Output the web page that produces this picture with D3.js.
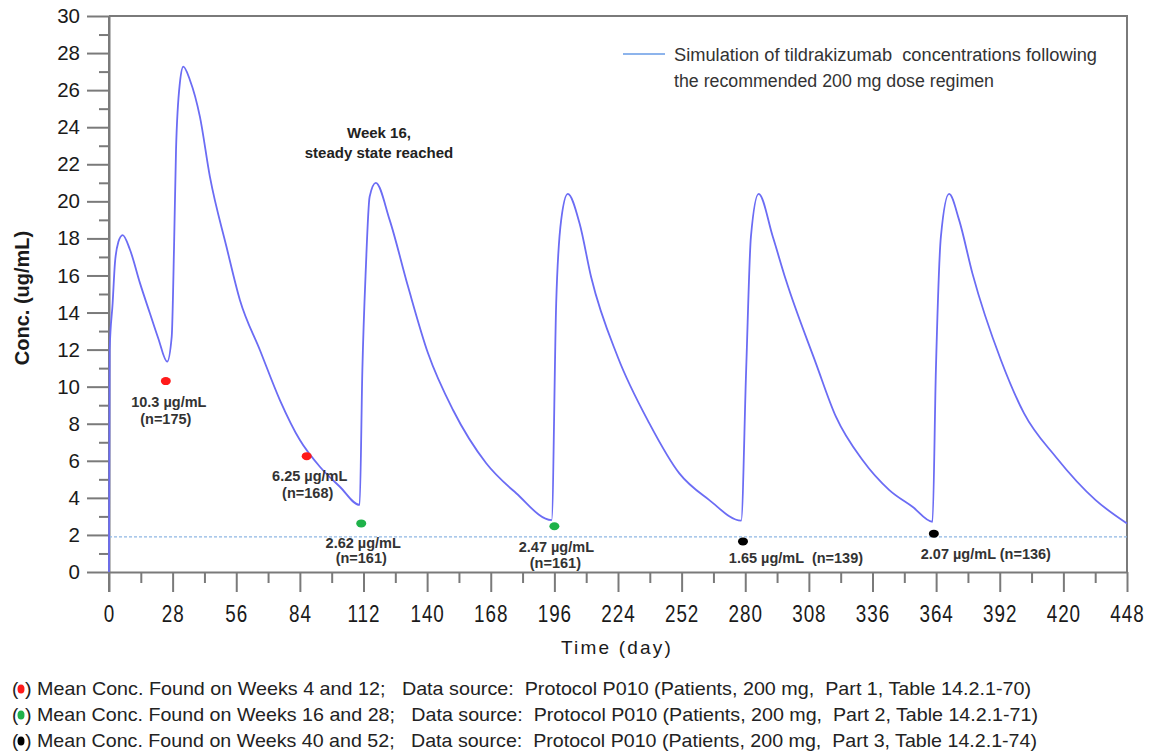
<!DOCTYPE html>
<html><head><meta charset="utf-8">
<script src="https://cdn.jsdelivr.net/npm/d3@7"></script>
<style>
  body { margin: 0; background: #fff; }
  svg { display: block; }
  text { white-space: pre; }
</style>
</head><body>
<svg id="chart" width="1151" height="753"></svg>
<script>
// Simulated tildrakizumab concentration-time profile (day, µg/mL)
const simDays = [0, 0.3, 1.6, 2.6, 4.1, 6.0, 9.2, 13.6, 18.0, 21.7, 25.6, 27.6, 28.6, 29.5, 31.2, 32.7,
  35.6, 40.0, 44.4, 51.7, 57.6, 66.4, 75.2, 84.0, 92.8, 101.6, 110.3, 111.5, 113.0, 114.7, 117.4,
  123.5, 131.6, 140.4, 151.4, 166.0, 179.2, 194.8, 196.8, 199.0, 201.9, 207.1, 212.2, 223.9, 237.8,
  251.0, 264.2, 278.2, 280.4, 282.5, 285.9, 292.1, 297.9, 311.1, 319.9, 331.6, 343.4, 353.6, 362.4,
  363.9, 366.1, 369.7, 374.1, 380.0, 392.5, 402.7, 416.6, 434.2, 448];
const simConc = [0, 12.0, 14.5, 16.65, 17.8, 18.18, 17.4, 15.6, 13.96, 12.6, 11.35, 12.7, 17.4, 22.8, 26.4, 27.27,
  26.55, 24.57, 21.33, 17.55, 14.68, 11.98, 9.28, 7.12, 5.68, 4.6, 3.62, 10.9, 16.3, 20.25, 21.0,
  19.0, 15.4, 11.8, 8.74, 5.87, 4.25, 2.8, 14.5, 19.0, 20.4, 18.8, 15.9, 11.6, 8.02,
  5.32, 3.88, 2.77, 10.9, 18.1, 20.4, 18.1, 15.75, 11.26, 8.38, 6.04, 4.42, 3.52, 2.71,
  10.9, 18.1, 20.4, 19.0, 16.1, 11.44, 8.56, 6.22, 3.88, 2.62];

// Observed mean concentrations
const obsDays  = [25, 87, 111, 196, 279, 363];
const obsConc  = [10.3, 6.25, 2.62, 2.47, 1.65, 2.07];
const obsN     = [175, 168, 161, 161, 139, 136];
const obsGroup = ["part1", "part1", "part2", "part2", "part3", "part3"];

const refLevel = 1.9;                       // dotted reference level
const xTicks = d3.range(0, 449, 28);
const xMinor = d3.range(14, 449, 28);
const yTicks = d3.range(0, 31, 2);
const yMinor = d3.range(1, 30, 2);

const groups = ["part1", "part2", "part3"];
const groupColor = { part1: "#ff1a1a", part2: "#1fb24a", part3: "#000000" };
const footnoteText = [
  ") Mean Conc. Found on Weeks 4 and 12;   Data source:  Protocol P010 (Patients, 200 mg,  Part 1, Table 14.2.1-70)",
  ") Mean Conc. Found on Weeks 16 and 28;   Data source:  Protocol P010 (Patients, 200 mg,  Part 2, Table 14.2.1-71)",
  ") Mean Conc. Found on Weeks 40 and 52;   Data source:  Protocol P010 (Patients, 200 mg,  Part 3, Table 14.2.1-74)"
];
const legendLines = ["Simulation of tildrakizumab  concentrations following", "the recommended 200 mg dose regimen"];
const noteLines = ["Week 16,", "steady state reached"];

// ---- layout ----
const svg = d3.select("#chart");
const x = d3.scaleLinear().domain([0, 448]).range([109, 1127]);
const y = d3.scaleLinear().domain([0, 30]).range([572, 16]);
const axisColor = "#7a7a7a";
const curveColor = "#6b6cf4";

// plot frame (top and right edges)
svg.append("path")
  .attr("d", `M${x(0)},${y(30)}H${x(448)}V${y(0)}`)
  .attr("fill", "none").attr("stroke", axisColor).attr("stroke-width", 2);

// y axis
const yAxis = svg.append("g").attr("transform", `translate(${x(0)},0)`)
  .call(d3.axisLeft(y).tickValues(yTicks).tickSize(22).tickPadding(7).tickSizeOuter(0));
svg.append("g").attr("transform", `translate(${x(0)},0)`)
  .call(d3.axisLeft(y).tickValues(yMinor).tickSize(10).tickFormat("").tickSizeOuter(0))
  .select(".domain").remove();
yAxis.selectAll("text").attr("font-family", "Liberation Sans, Arial, sans-serif")
  .attr("font-size", 20.5).attr("fill", "#1a1a1a");

// x axis
const xAxis = svg.append("g").attr("transform", `translate(0,${y(0)})`)
  .call(d3.axisBottom(x).tickValues(xTicks).tickSize(20).tickPadding(14).tickSizeOuter(0));
svg.append("g").attr("transform", `translate(0,${y(0)})`)
  .call(d3.axisBottom(x).tickValues(xMinor).tickSize(11).tickFormat("").tickSizeOuter(0))
  .select(".domain").remove();
xAxis.selectAll("text").attr("font-family", "Liberation Sans, Arial, sans-serif")
  .attr("font-size", 23).attr("letter-spacing", 1.2).attr("transform", "scale(0.82,1)")
  .attr("fill", "#1a1a1a");

svg.selectAll(".domain, .tick line").attr("stroke", axisColor).attr("stroke-width", 2);
// extend the left axis line down to the end of the zero tick
svg.append("line").attr("x1", x(0)).attr("x2", x(0)).attr("y1", y(30)).attr("y2", y(0) + 20)
  .attr("stroke", axisColor).attr("stroke-width", 2);

// axis titles
svg.append("text")
  .attr("transform", `translate(29,298) rotate(-90)`)
  .attr("text-anchor", "middle")
  .attr("font-family", "Liberation Sans, Arial, sans-serif").attr("font-size", 20).attr("font-weight", "bold")
  .attr("fill", "#1a1a1a").text("Conc. (ug/mL)");
svg.append("text")
  .attr("x", 617).attr("y", 654).attr("text-anchor", "middle")
  .attr("font-family", "Liberation Sans, Arial, sans-serif").attr("font-size", 19).attr("letter-spacing", 2.2)
  .attr("fill", "#1a1a1a").text("Time (day)");

// dotted reference level
svg.append("line")
  .attr("x1", x(0)).attr("x2", x(448)).attr("y1", y(refLevel)).attr("y2", y(refLevel))
  .attr("stroke", "#8fb7e3").attr("stroke-width", 1.3).attr("stroke-dasharray", "3,2");

// simulated profile
const line = d3.line().x(i => x(simDays[i])).y(i => y(simConc[i])).curve(d3.curveMonotoneX);
svg.append("path")
  .attr("d", line(d3.range(simDays.length)))
  .attr("fill", "none").attr("stroke", curveColor).attr("stroke-width", 1.8);

// observed means
const obsIdx = d3.range(obsDays.length);
svg.selectAll("ellipse.obs").data(obsIdx).join("ellipse")
  .attr("class", "obs")
  .attr("cx", i => x(obsDays[i])).attr("cy", i => y(obsConc[i]))
  .attr("rx", 5).attr("ry", 4)
  .attr("fill", i => groupColor[obsGroup[i]]);

// observed-mean labels: [dx, dy] of first line, [dx, dy] of second line (null = single line)
const labelLayout = [
  [[3, 26], [0, 43]],
  [[3, 25], [1, 42]],
  [[2, 25], [0, 40]],
  [[2, 26], [1, 42]],
  [[53, 22], null],
  [[52, 25], null]
];
const labelFont = { family: "Liberation Sans, Arial, sans-serif", size: 14.5 };
obsIdx.forEach(i => {
  const cx = x(obsDays[i]), cy = y(obsConc[i]);
  const [l1, l2] = labelLayout[i];
  const conc = `${obsConc[i]} µg/mL`, n = `(n=${obsN[i]})`;
  const lines = l2 ? [[l1, conc], [l2, n]] : [[l1, conc + (i === 4 ? "  " : " ") + n]];
  lines.forEach(([off, str]) => {
    svg.append("text")
      .attr("x", cx + off[0]).attr("y", cy + off[1]).attr("text-anchor", "middle")
      .attr("font-family", labelFont.family).attr("font-size", labelFont.size).attr("font-weight", "bold")
      .attr("fill", "#333").text(str);
  });
});

// "Week 16" note
noteLines.forEach((t, k) => {
  svg.append("text").attr("x", 379).attr("y", 138 + k * 20).attr("text-anchor", "middle")
    .attr("font-family", "Liberation Sans, Arial, sans-serif").attr("font-size", 15).attr("font-weight", "bold")
    .attr("fill", "#222").text(t);
});

// legend for the simulated profile
svg.append("line").attr("x1", 623).attr("x2", 665).attr("y1", 54).attr("y2", 54)
  .attr("stroke", "#8db4ec").attr("stroke-width", 2);
legendLines.forEach((t, k) => {
  svg.append("text").attr("x", 674).attr("y", 61 + k * 26)
    .attr("font-family", "Liberation Sans, sans-serif").attr("font-size", 18)
    .attr("textLength", k === 0 ? 423 : 320).attr("lengthAdjust", "spacingAndGlyphs")
    .attr("fill", "#333").text(t);
});

// footnotes with colour keys
groups.forEach((g, k) => {
  const base = 695 + k * 26;
  const foot = svg.append("g").attr("font-family", "Liberation Sans, sans-serif")
    .attr("font-size", 19).attr("fill", "#222");
  foot.append("text").attr("x", 12).attr("y", base).text("(");
  foot.append("ellipse").attr("cx", 21).attr("cy", base - 6).attr("rx", 3.5).attr("ry", 4.5)
    .attr("fill", groupColor[g]);
  foot.append("text").attr("x", 25).attr("y", base)
    .attr("textLength", [1006, 1013, 1012][k]).attr("lengthAdjust", "spacingAndGlyphs")
    .text(footnoteText[k]);
});
</script>
</body></html>
